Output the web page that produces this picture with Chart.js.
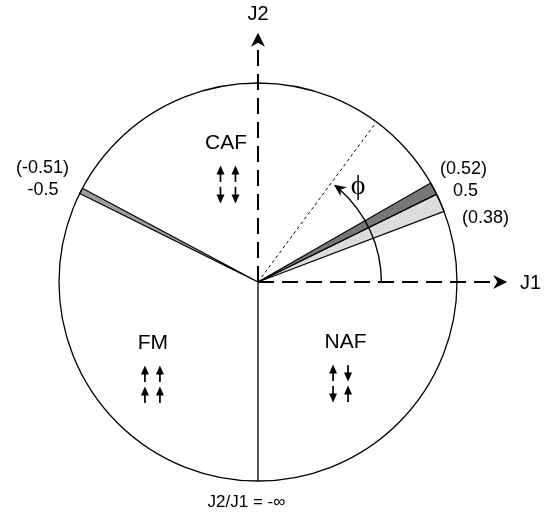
<!DOCTYPE html>
<html>
<head>
<meta charset="utf-8">
<script src="https://cdn.jsdelivr.net/npm/chart.js@4.4.1/dist/chart.umd.min.js"></script>
<style>
  body { margin: 0; background: #fff; }
  #wrap { width: 552px; height: 517px; }
</style>
</head>
<body>
<div id="wrap"><canvas id="mycanvas"></canvas></div>
<script>
// phase diagram in the (J1, J2) plane, angles in degrees as drawn
var phases = ['CAF', 'FM', 'NAF'];
var spinsCAF = [['up', 'up'], ['down', 'down']];
var spinsFM = [['up', 'up'], ['up', 'up']];
var spinsNAF = [['up', 'down'], ['down', 'up']];

var rightLabels = ['(0.52)', '0.5', '(0.38)'];
var rightAngles = [29.8, 26.2, 20.8];
var leftLabels = ['(-0.51)', '-0.5'];
var leftAngles = [151.9, 153.6];
var bottomLabel = 'J2/J1 = -\u221e';
var bottomAngle = 270;
var phiAngle = 53.5;
var phiArcEnd = 52;

function pt(deg, r) {
	var a = deg * Math.PI / 180;
	return { x: r * Math.cos(a), y: r * Math.sin(a) };
}
function wedge(a1, a2) {
	return [{ x: 0, y: 0 }, pt(a1, 1), pt((a1 + a2) / 2, 1), pt(a2, 1), { x: 0, y: 0 }];
}

var datasets = [
	{ data: wedge(rightAngles[0], rightAngles[1]), backgroundColor: '#777' },
	{ data: wedge(rightAngles[1], rightAngles[2]), backgroundColor: '#dcdcdc' },
	{ data: wedge(leftAngles[0], leftAngles[1]), backgroundColor: '#9c9c9c' }
].map(function(d) {
	d.type = 'line'; d.fill = 'shape'; d.borderColor = '#000'; d.borderWidth = 1.2;
	d.pointRadius = 0; d.tension = 0; return d;
});
datasets.push({ type: 'line', data: [{ x: 0, y: 0 }, pt(bottomAngle, 1)], borderColor: '#000', borderWidth: 1.3, pointRadius: 0, fill: false });
datasets.push({ type: 'line', data: [{ x: 0, y: 0 }, { x: 0, y: 1.19 }], borderColor: '#000', borderWidth: 2, borderDash: [16, 8], pointRadius: 0, fill: false });
datasets.push({ type: 'line', data: [{ x: 0, y: 0 }, { x: 1.19, y: 0 }], borderColor: '#000', borderWidth: 2, borderDash: [16, 8], pointRadius: 0, fill: false });
datasets.push({ type: 'line', data: [{ x: 0, y: 0 }, pt(phiAngle, 0.98)], borderColor: '#000', borderWidth: 1, borderDash: [3, 3], pointRadius: 0, fill: false });

function spinArrow(ctx, x, y, dir) {
	var s = dir == 'up' ? -1 : 1;
	ctx.beginPath();
	ctx.moveTo(x, y - s * 8);
	ctx.lineTo(x, y + s * 1);
	ctx.lineWidth = 1.7;
	ctx.stroke();
	ctx.beginPath();
	ctx.moveTo(x, y + s * 8.5);
	ctx.lineTo(x - 4, y - s * 0.5);
	ctx.lineTo(x + 4, y - s * 0.5);
	ctx.closePath();
	ctx.fill();
}
function headAt(ctx, x, y, ang, len, wid) {
	ctx.save();
	ctx.translate(x, y);
	ctx.rotate(ang);
	ctx.beginPath();
	ctx.moveTo(0, 0);
	ctx.lineTo(-len, -wid);
	ctx.lineTo(-len * 0.7, 0);
	ctx.lineTo(-len, wid);
	ctx.closePath();
	ctx.fill();
	ctx.restore();
}

var decor = {
	id: 'decor',
	beforeDraw: function(chart) {
		var ctx = chart.ctx;
		ctx.save();
		ctx.fillStyle = '#fff';
		ctx.fillRect(0, 0, chart.width, chart.height);
		ctx.restore();
	},
	afterDatasetsDraw: function(chart) {
		var ctx = chart.ctx;
		var xs = chart.scales.x, ys = chart.scales.y;
		var X = function(v) { return xs.getPixelForValue(v); };
		var Y = function(v) { return ys.getPixelForValue(v); };
		var cx = X(0), cy = Y(0);
		var R = X(1) - cx;
		ctx.save();
		ctx.strokeStyle = '#000';
		ctx.fillStyle = '#000';

		ctx.beginPath();
		ctx.arc(cx, cy, R, 0, Math.PI * 2);
		ctx.lineWidth = 1.3;
		ctx.stroke();

		// axis arrows
		headAt(ctx, X(0), Y(1.252), -Math.PI / 2, 14, 7);
		headAt(ctx, X(1.252), Y(0), 0, 14, 7);

		// phi arc
		var r = 0.62 * R, e = phiArcEnd * Math.PI / 180;
		ctx.beginPath();
		ctx.arc(cx, cy, r, 0, -e + 0.06, true);
		ctx.lineWidth = 1.4;
		ctx.stroke();
		headAt(ctx, cx + r * Math.cos(e), cy - r * Math.sin(e), -Math.PI / 2 - e - 0.05, 12, 5.5);

		ctx.textAlign = 'center';
		ctx.textBaseline = 'middle';
		ctx.font = '20px "Liberation Sans", Arial, sans-serif';
		ctx.fillText('J2', X(0), Y(1.342));
		ctx.fillText('J1', X(1.37), Y(-0.005));

		ctx.font = '18px "Liberation Sans", Arial, sans-serif';
		var rp = [[1.033, 0.568], [1.043, 0.457], [1.143, 0.322]];
		rightLabels.forEach(function(t, i) { ctx.fillText(t, X(rp[i][0]), Y(rp[i][1])); });
		var lp = [[-1.083, 0.573], [-1.080, 0.462]];
		leftLabels.forEach(function(t, i) { ctx.fillText(t, X(lp[i][0]), Y(lp[i][1])); });
		ctx.font = '17px "Liberation Sans", Arial, sans-serif';
		ctx.fillText(bottomLabel, X(-0.058), Y(-1.106));

		ctx.font = '28px "Liberation Serif", "DejaVu Serif", serif';
		ctx.fillText('\u03d5', X(0.503), Y(0.477));

		ctx.font = '21px "Liberation Sans", Arial, sans-serif';
		var pp = { CAF: [-0.161, 0.699], FM: [-0.528, -0.307], NAF: [0.44, -0.302] };
		var sp = { CAF: spinsCAF, FM: spinsFM, NAF: spinsNAF };
		var sx = { CAF: 2, FM: -0.5, NAF: -5 };
		phases.forEach(function(p) {
			var px = X(pp[p][0]), py = Y(pp[p][1]);
			ctx.fillText(p, px, py);
			sp[p].forEach(function(row, ri) {
				row.forEach(function(d, ci) {
					spinArrow(ctx, px + sx[p] + (ci - 0.5) * 15, py + 31 + ri * 21, d);
				});
			});
		});
		ctx.restore();
	}
};

var ctx = document.getElementById('mycanvas');
var chart = new Chart(ctx, {
	type: 'scatter',
	data: { datasets: datasets },
	options: {
		responsive: true,
		maintainAspectRatio: false,
		animation: false,
		layout: { padding: 0 },
		plugins: { legend: { display: false }, tooltip: { enabled: false } },
		scales: {
			x: { type: 'linear', display: false, min: -258 / 199, max: 294 / 199 },
			y: { type: 'linear', display: false, min: -235 / 199, max: 282 / 199 }
		}
	},
	plugins: [decor]
});
</script>
</body>
</html>
